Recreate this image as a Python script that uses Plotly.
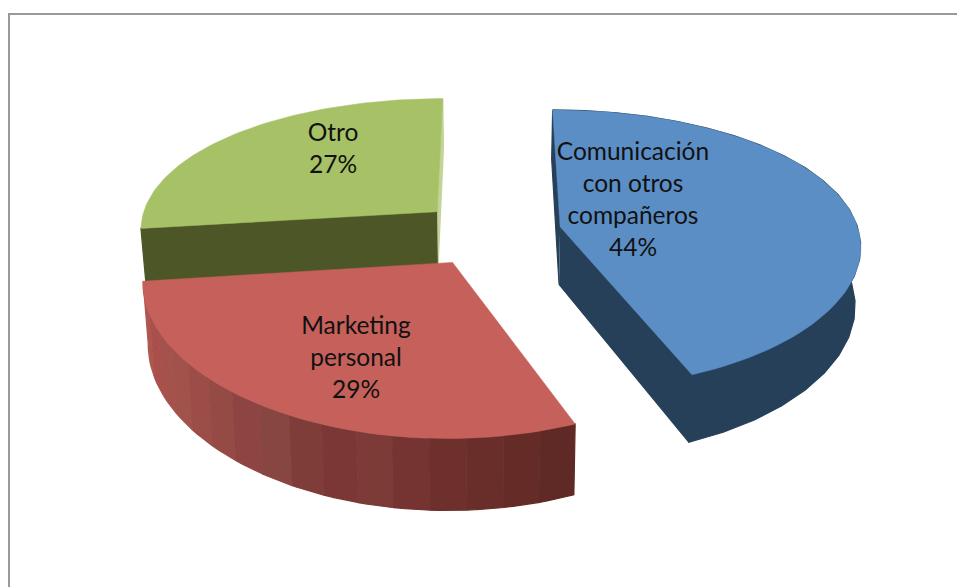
import numpy as np
import plotly.graph_objects as go

categories = ["Comunicación<br>con otros<br>compañeros", "Marketing<br>personal", "Otro"]
values = [44, 29, 27]

TOP = ["#5B8EC4", "#C6605A", "#A7C166"]
WALL = ["#264059", "#7A3736", "#4D5626"]
RED_BANDS = ["#B05C55", "#AE574E", "#AB4F4C", "#A5524C", "#A1524A", "#9C4D47", "#964A45",
             "#8F4444", "#884640", "#7F3D3A", "#7A3736", "#7C3B36", "#753331", "#6E302D",
             "#6A2E2A", "#652B27", "#5F2925"]

CX, CY, RX, RY, KX, KY, EXPLODE, DEPTH, SHRINK = 490, 233, 299, 137.5, 0.12, 0.16, 0.24, 58, 0.985

total = sum(values)
fracs = np.array(values) / total
edges = np.concatenate([[0], np.cumsum(fracs)]) * 2 * np.pi


def project(theta, r, mid, low=False):
    X = r * np.sin(theta) + EXPLODE * np.sin(mid)
    Y = -r * np.cos(theta) - EXPLODE * np.cos(mid)
    sy = 1 / (1 - KY * Y)
    sx = 1 / (1 - KX * Y)
    x = RX * X * sx
    y = CY + RY * Y * sy
    if low:
        return CX + x * SHRINK, y + DEPTH * sy
    return CX + x, y


fig = go.Figure()


def poly(xs, ys, color, w=1.2):
    fig.add_trace(go.Scatter(x=list(xs), y=list(ys), mode="lines", fill="toself",
                             fillcolor=color, line=dict(color=color, width=w),
                             hoverinfo="skip", showlegend=False))


def arc(a, b, n=80):
    return np.linspace(a, b, n)


def cut_wall(i, theta, color):
    mid = (edges[i] + edges[i + 1]) / 2
    x1, y1 = project(theta, 0.0, mid)
    x2, y2 = project(theta, 1.0, mid)
    x3, y3 = project(theta, 1.0, mid, True)
    x4, y4 = project(theta, 0.0, mid, True)
    poly([x1, x2, x3, x4], [y1, y2, y3, y4], color)


def top_face(i):
    a, b = edges[i], edges[i + 1]
    mid = (a + b) / 2
    t = arc(a, b)
    x, y = project(t, 1.0, mid)
    x0, y0 = project(a, 0.0, mid)
    poly(np.r_[x0, x, x0], np.r_[y0, y, y0], TOP[i], 0.5)


def rim(i, a, b, color):
    mid = (edges[i] + edges[i + 1]) / 2
    t = arc(a, b, 24)
    x1, y1 = project(t, 1.0, mid)
    x2, y2 = project(t[::-1], 1.0, mid, True)
    poly(np.r_[x1, x2], np.r_[y1, y2], color)


# Otro (back left)
cut_wall(2, edges[3], "#C3D497")
cut_wall(2, edges[2], WALL[2])
top_face(2)

# Comunicación (right)
rim(0, edges[0], edges[1], WALL[0])
cut_wall(0, edges[0], WALL[0])
cut_wall(0, edges[1], WALL[0])
top_face(0)

# Marketing personal (front) with banded outer rim
band_edges = np.linspace(edges[2], edges[1], len(RED_BANDS) + 1)
for j, c in enumerate(RED_BANDS):
    rim(1, band_edges[j], band_edges[j + 1], c)
top_face(1)

label_x = [633, 356, 333]
label_y = [202, 360, 151]
texts = [f"{c}<br>{round(v / total * 100)}%" for c, v in zip(categories, values)]
fig.add_trace(go.Scatter(x=label_x, y=label_y, mode="text", text=texts,
                         textposition="middle center",
                         textfont=dict(family="Lato, Carlito, sans-serif", size=24.5, color="#111111"),
                         hoverinfo="skip", showlegend=False))

fig.update_layout(
    width=957, height=587, margin=dict(l=0, r=0, t=0, b=0),
    paper_bgcolor="white", plot_bgcolor="white", showlegend=False,
    xaxis=dict(range=[0, 957], visible=False, fixedrange=True),
    yaxis=dict(range=[587, 0], visible=False, fixedrange=True),
    shapes=[
        dict(type="line", xref="x", yref="y", x0=9, x1=9, y0=14, y1=587, line=dict(color="#999999", width=2)),
        dict(type="line", xref="x", yref="y", x0=8, x1=957, y0=14, y1=14, line=dict(color="#999999", width=2)),
    ],
)
fig.write_html("out.html", config={"displayModeBar": False},
               post_script="document.body.style.margin='0';document.body.style.overflow='hidden';")
